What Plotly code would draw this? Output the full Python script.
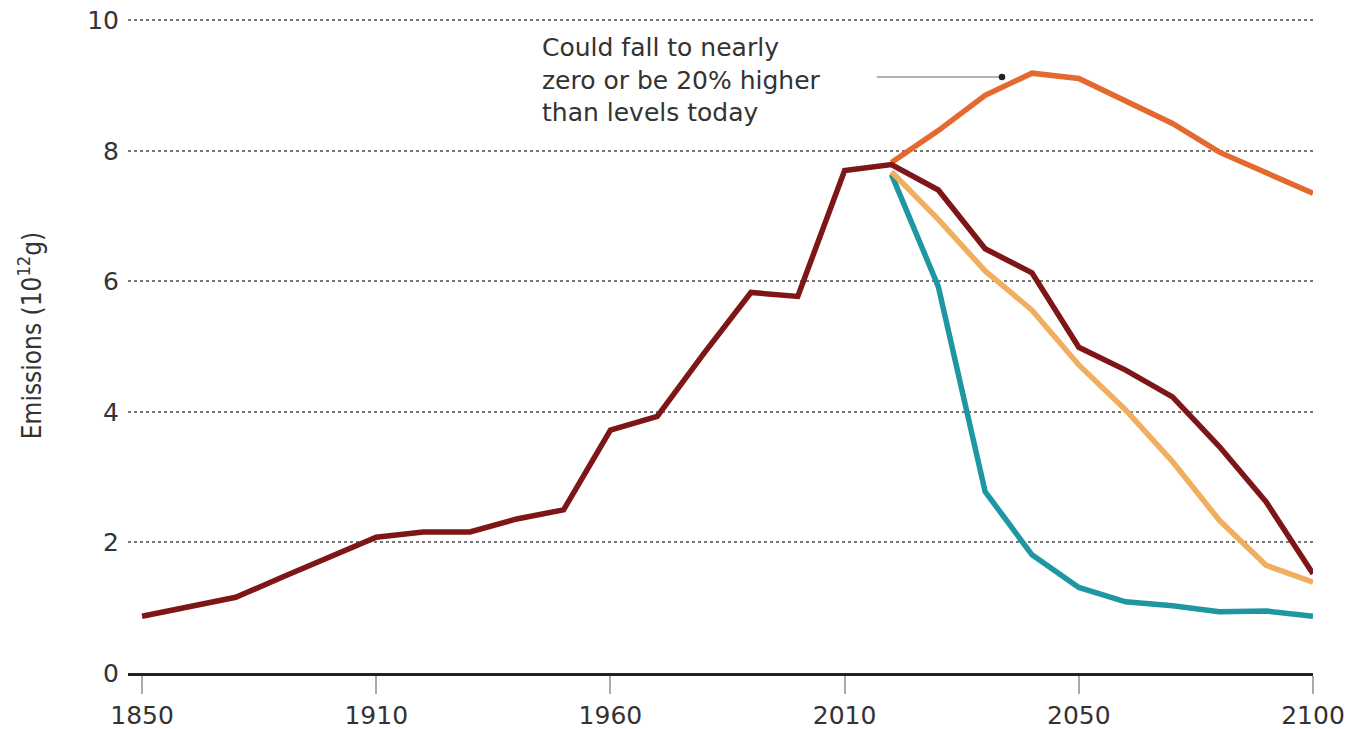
import plotly.graph_objects as go

# ---- data ----
years = ["1850", "1862", "1874", "1886", "1898", "1910", "1920", "1930", "1940", "1950",
         "1960", "1970", "1980", "1990", "2000", "2010", "2015", "2020", "2030", "2040",
         "2050", "2060", "2070", "2080", "2090", "2100"]
tick_years = ["1850", "1910", "1960", "2010", "2050", "2100"]

central = [0.87, 1.02, 1.16, 1.47, 1.77, 2.08, 2.16, 2.16, 2.36, 2.50,
           3.72, 3.93, 4.90, 5.83, 5.77, 7.70, 7.79, 7.40, 6.50, 6.13,
           4.99, 4.64, 4.23, 3.47, 2.62, 1.52]
high = [None] * 16 + [7.82, 8.31, 8.85, 9.19, 9.11, 8.76, 8.42, 7.98, 7.67, 7.35]
medium = [None] * 16 + [7.68, 6.95, 6.16, 5.56, 4.72, 4.03, 3.24, 2.34, 1.65, 1.39]
low = [None] * 16 + [7.64, 5.92, 2.78, 1.81, 1.31, 1.09, 1.03, 0.94, 0.95, 0.87]

note_text = "Could fall to nearly<br>zero or be 20% higher<br>than levels today"
y_title = "Emissions (10<sup>12</sup>g)"

# ---- styles ----
C_BROWN = "#7e1618"
C_ORANGE = "#e4692f"
C_LIGHT = "#f0ae5f"
C_TEAL = "#1e97a2"
FONT = "DejaVu Sans"
LW = 5.5

fig = go.Figure()
for vals, col in [(low, C_TEAL), (medium, C_LIGHT), (high, C_ORANGE), (central, C_BROWN)]:
    fig.add_trace(go.Scatter(x=years, y=vals, mode="lines",
                             line=dict(color=col, width=LW), connectgaps=False,
                             showlegend=False, hoverinfo="skip"))

fig.update_layout(
    width=1348, height=729,
    margin=dict(l=128, r=35, t=19, b=56),
    paper_bgcolor="white", plot_bgcolor="white",
    font=dict(family=FONT, color="#333333"),
    showlegend=False,
)
fig.update_xaxes(
    type="category", categoryorder="array", categoryarray=years,
    range=[-0.3, 25.0], automargin=False, ticklabeloverflow="allow",
    tickmode="array", tickvals=tick_years, ticktext=tick_years,
    ticks="outside", ticklen=18, tickwidth=1.5, tickcolor="#aaaaaa",
    tickfont=dict(size=25, color="#333333", family=FONT),
    showline=True, linecolor="#222222", linewidth=3,
    showgrid=False, zeroline=False,
)
fig.update_yaxes(
    range=[0, 10.02], automargin=False, ticklabeloverflow="allow",
    tickmode="array", tickvals=[0, 2, 4, 6, 8, 10],
    ticks="", ticklabelstandoff=8,
    tickfont=dict(size=25, color="#333333", family=FONT),
    showgrid=True, gridcolor="#777777", gridwidth=1.5, griddash="dot",
    zeroline=False, showline=False,
)

# y title as rotated annotation
fig.add_annotation(text=y_title, xref="paper", yref="paper", x=-0.083, y=0.516,
                   xanchor="center", yanchor="middle", textangle=-90, showarrow=False,
                   font=dict(family="Liberation Sans Narrow, DejaVu Sans Condensed, Liberation Sans",
                             size=26, color="#333333"))

# note
fig.add_annotation(text=note_text, x=8.5, y=9.08, xref="x", yref="y",
                   xanchor="left", yanchor="middle", align="left", showarrow=False,
                   font=dict(family=FONT, size=25, color="#333333"))
fig.add_shape(type="line", xref="x", yref="y", x0=15.69, x1=18.36, y0=9.13, y1=9.13,
              line=dict(color="#999999", width=1.5))
fig.add_shape(type="circle", xref="x", yref="y", x0=18.36 - 0.07, x1=18.36 + 0.07,
              y0=9.13 - 0.05, y1=9.13 + 0.05, fillcolor="#222222", line=dict(width=0))

fig.write_html("out.html", config={"displayModeBar": False},
               post_script="document.body.style.margin='0';document.body.style.overflow='hidden';")
